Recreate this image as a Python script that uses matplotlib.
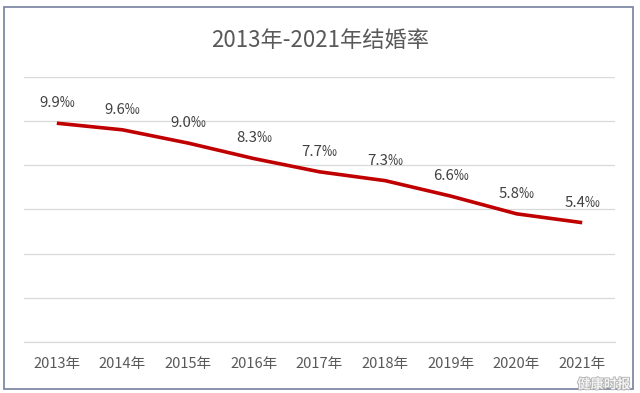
import matplotlib
matplotlib.use('Agg')
import matplotlib.pyplot as plt
import matplotlib.patheffects as pe
from matplotlib.patches import Rectangle

plt.rcParams['font.family'] = ['Noto Sans CJK SC', 'DejaVu Sans']

years = ['2013年', '2014年', '2015年', '2016年', '2017年', '2018年', '2019年', '2020年', '2021年']
rates = [9.9, 9.6, 9.0, 8.3, 7.7, 7.3, 6.6, 5.8, 5.4]
labels = ['9.9‰', '9.6‰', '9.0‰', '8.3‰', '7.7‰', '7.3‰', '6.6‰', '5.8‰', '5.4‰']
title = '2013年-2021年结婚率'

fig = plt.figure(figsize=(6.4, 3.93), dpi=100)
ax = fig.add_axes([0.0375, 0.1298, 0.9235, 0.6748])

x = list(range(len(years)))
ax.plot(x, rates, color='#C00000', lw=2.6, solid_joinstyle='round', solid_capstyle='butt', zorder=3)
for xi, yi, lb in zip(x, rates, labels):
    ax.annotate(lb, (xi, yi), xytext=(0, 14.5), textcoords='offset points',
                ha='center', va='center', fontsize=10.8, color='#404040')

ax.set_xlim(-0.5, len(years) - 0.5)
ax.set_ylim(0, 12)
ax.set_yticks(range(0, 13, 2))
ax.yaxis.grid(True, color='#D9D9D9', lw=0.9)
ax.set_axisbelow(True)
ax.tick_params(axis='y', left=False, labelleft=False)
ax.set_xticks(x)
ax.set_xticklabels(years, fontsize=10.5, color='#595959')
ax.tick_params(axis='x', length=0, pad=11)
for s in ['top', 'right', 'left']:
    ax.spines[s].set_visible(False)
ax.spines['bottom'].set_color('#D9D9D9')
ax.spines['bottom'].set_linewidth(0.9)

fig.text(0.5, 0.898, title, ha='center', va='center', fontsize=16, color='#595959')

# chart frame
fig.patches.append(Rectangle((3.5 / 640, 1 - 389 / 393), 629 / 640, 382 / 393,
                             transform=fig.transFigure, fill=False,
                             edgecolor='#7F8AA6', lw=1.3))

# watermark
fig.text(0.985, 0.004, '健康时报', ha='right', va='bottom', fontsize=9.5,
         fontweight='bold', color='#F2F2F2',
         path_effects=[pe.withStroke(linewidth=1.2, foreground='#B0B0B0')])

fig.savefig('out.png', dpi=100)
